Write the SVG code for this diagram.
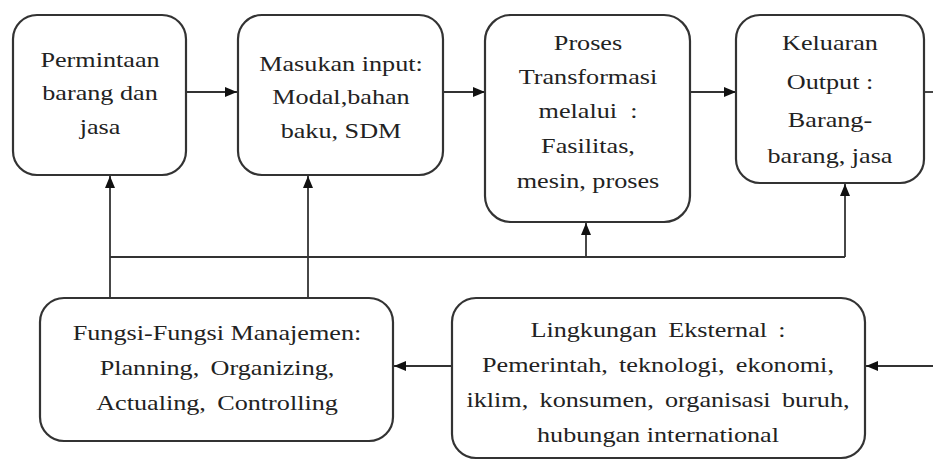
<svg xmlns="http://www.w3.org/2000/svg" width="933" height="461" viewBox="0 0 933 461">
<defs>
<marker id="ah" viewBox="0 0 12 10" refX="12" refY="5" markerWidth="12" markerHeight="10" markerUnits="userSpaceOnUse" orient="auto">
<path d="M0,0 L12,5 L0,10 Z" fill="#111"/>
</marker>
</defs>
<style>
.box{fill:#fff;stroke:#333;stroke-width:2.2}
.c{fill:none;stroke:#333;stroke-width:1.8}
.t{font-family:"Liberation Serif","Times New Roman",serif;font-size:22px;fill:#222;text-anchor:middle}
</style>
<rect width="933" height="461" fill="#fff"/>
<g id="connectors">
<line class="c" x1="186" y1="92" x2="237" y2="92" marker-end="url(#ah)"/>
<line class="c" x1="443" y1="92" x2="485" y2="92" marker-end="url(#ah)"/>
<line class="c" x1="690" y1="92" x2="736" y2="92" marker-end="url(#ah)"/>
<line class="c" x1="924" y1="92" x2="933" y2="92"/>
<line class="c" x1="110" y1="298" x2="110" y2="176" marker-end="url(#ah)"/>
<line class="c" x1="308" y1="298" x2="308" y2="176" marker-end="url(#ah)"/>
<line class="c" x1="110" y1="257" x2="845" y2="257"/>
<line class="c" x1="586" y1="257" x2="586" y2="223" marker-end="url(#ah)"/>
<line class="c" x1="845" y1="257" x2="845" y2="184" marker-end="url(#ah)"/>
<line class="c" x1="452" y1="366" x2="394" y2="366" marker-end="url(#ah)"/>
<line class="c" x1="933" y1="366" x2="866" y2="366" marker-end="url(#ah)"/>
</g>
<g id="permintaan">
<rect class="box" x="13" y="15" width="173" height="160" rx="24"/>
<g transform="translate(100 0) scale(1.19 1)">
<text class="t" x="0" y="67">Permintaan</text>
<text class="t" x="0" y="100">barang dan</text>
<text class="t" x="0" y="134">jasa</text>
</g>
</g>
<g id="masukan">
<rect class="box" x="238" y="15" width="205" height="160" rx="24"/>
<g transform="translate(341 0) scale(1.19 1)">
<text class="t" x="0" y="71">Masukan input:</text>
<text class="t" x="0" y="104">Modal,bahan</text>
<text class="t" x="0" y="138">baku, SDM</text>
</g>
</g>
<g id="proses">
<rect class="box" x="485" y="15" width="205" height="207" rx="26"/>
<g transform="translate(588 0) scale(1.19 1)">
<text class="t" x="0" y="50">Proses</text>
<text class="t" x="0" y="84">Transformasi</text>
<text class="t" x="0" y="118">melalui&#160; :</text>
<text class="t" x="0" y="153">Fasilitas,</text>
<text class="t" x="0" y="188">mesin, proses</text>
</g>
</g>
<g id="keluaran">
<rect class="box" x="736" y="15" width="188" height="168" rx="24"/>
<g transform="translate(830 0) scale(1.19 1)">
<text class="t" x="0" y="50">Keluaran</text>
<text class="t" x="0" y="89">Output :</text>
<text class="t" x="0" y="127">Barang-</text>
<text class="t" x="0" y="163">barang, jasa</text>
</g>
</g>
<g id="fungsi">
<rect class="box" x="40" y="298" width="353" height="143" rx="24"/>
<g transform="translate(217 0) scale(1.19 1)">
<text class="t" x="0" y="340">Fungsi-Fungsi Manajemen:</text>
<text class="t" x="0" y="375" word-spacing="4">Planning, Organizing,</text>
<text class="t" x="0" y="410" word-spacing="4">Actualing, Controlling</text>
</g>
</g>
<g id="lingkungan">
<rect class="box" x="452" y="298" width="413" height="160" rx="24"/>
<g transform="translate(658 0) scale(1.19 1)">
<text class="t" x="0" y="337" word-spacing="4">Lingkungan Eksternal :</text>
<text class="t" x="0" y="372" word-spacing="4">Pemerintah, teknologi, ekonomi,</text>
<text class="t" x="0" y="407" word-spacing="4">iklim, konsumen, organisasi buruh,</text>
<text class="t" x="0" y="442">hubungan international</text>
</g>
</g>
</svg>
